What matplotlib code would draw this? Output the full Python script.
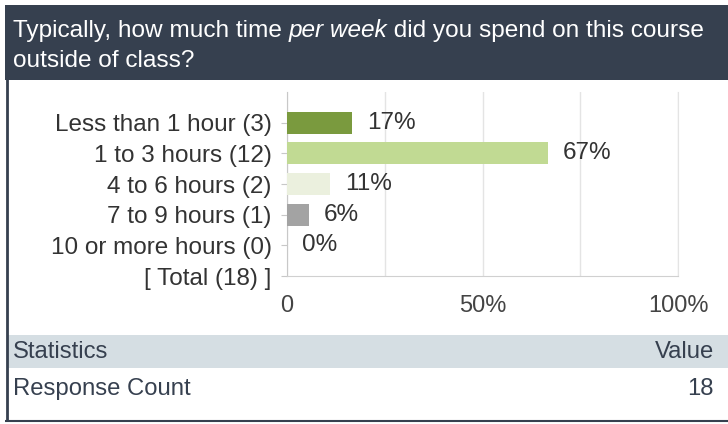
import matplotlib
matplotlib.use("Agg")
import matplotlib.pyplot as plt
from matplotlib.patches import Rectangle

plt.rcParams['font.family'] = ['Liberation Sans', 'DejaVu Sans']

# ---- data ----
question_plain_1 = "Typically, how much time "
question_italic = "per week"
question_plain_2 = " did you spend on this course"
question_line2 = "outside of class?"
categories = ["Less than 1 hour", "1 to 3 hours", "4 to 6 hours", "7 to 9 hours", "10 or more hours"]
counts = [3, 12, 2, 1, 0]
total_label = "Total"
bar_colors = ["#7a9a3e", "#c1da93", "#ebf0de", "#a3a3a3", "#dddddd"]
xticks = [0, 50, 100]
xtick_labels = ["0", "50%", "100%"]
stats_header = ["Statistics", "Value"]
stats_rows = [("Response Count", "18")]

total = sum(counts)
pcts = [100.0 * c / total for c in counts]

W, H = 728, 424
fig = plt.figure(figsize=(W / 100, H / 100), dpi=100)
fig.patch.set_facecolor("white")

# background / frame axes in pixel coordinates
bg = fig.add_axes([0, 0, 1, 1])
bg.set_xlim(0, W)
bg.set_ylim(H, 0)
bg.axis("off")

dark = "#36404f"
bg.add_patch(Rectangle((5, 5), W - 5, 75, color=dark, lw=0))
bg.plot([6.5, 6.5], [5, 421], color=dark, lw=2, solid_capstyle="butt")
bg.plot([5, W], [421, 421], color=dark, lw=1.5, solid_capstyle="butt")

# header text with italic part
fs_head = 17.6
t1 = bg.text(13, 31, question_plain_1, color="white", fontsize=fs_head, va="center", ha="left")
fig.canvas.draw()
r = fig.canvas.get_renderer()
bb = t1.get_window_extent(renderer=r)
x_px = 13 + bb.width
t2 = bg.text(x_px, 31, question_italic, color="white", fontsize=fs_head, va="center", ha="left", style="italic")
bb2 = t2.get_window_extent(renderer=r)
x_px += bb2.width
bg.text(x_px, 31, question_plain_2, color="white", fontsize=fs_head, va="center", ha="left")
bg.text(13, 61, question_line2, color="white", fontsize=fs_head, va="center", ha="left")

# statistics table
fs_tab = 17.2
bg.add_patch(Rectangle((7, 335), W - 7, 33, color="#d5dee3", lw=0))
bg.text(13, 352, stats_header[0], color=dark, fontsize=fs_tab, va="center", ha="left")
bg.text(W - 14, 352, stats_header[1], color=dark, fontsize=fs_tab, va="center", ha="right")
for i, (k, v) in enumerate(stats_rows):
    y = 389 + 32 * i
    bg.text(13, y, k, color=dark, fontsize=fs_tab, va="center", ha="left")
    bg.text(W - 14, y, v, color=dark, fontsize=fs_tab, va="center", ha="right")

# chart axes
left, right, top, bottom = 287, 678, 92, 276
ax = fig.add_axes([left / W, 1 - bottom / H, (right - left) / W, (bottom - top) / H])
ax.set_xlim(0, 100)
n = len(categories)
ax.set_ylim(n + 1, 0)
ypos = list(range(1, n + 1))
fs_chart = 17.5
ax.barh(ypos, pcts, height=0.72, color=bar_colors, zorder=3)
for y, p in zip(ypos, pcts):
    ax.annotate(f"{p:.0f}%", (p, y), xytext=(10.5, 0), textcoords="offset points",
                va="center", ha="left", fontsize=fs_chart, color="#333333")

ylabels = [f"{c} ({k})" for c, k in zip(categories, counts)] + [f"[ {total_label} ({total}) ]"]
ax.set_yticks(ypos + [n + 1])
ax.set_yticklabels(ylabels, fontsize=fs_chart, color="#333333")
ax.set_xticks(xticks)
ax.set_xticklabels(xtick_labels, fontsize=17, color="#444444")
ax.set_xticks([25, 75], minor=True)
ax.tick_params(axis="y", length=4, color="#c8c8c8", pad=7)
ax.tick_params(axis="x", which="both", length=0, pad=14)
ax.grid(axis="x", which="both", color="#e4e4e4", lw=1, zorder=0)
ax.spines["top"].set_visible(False)
ax.spines["right"].set_color("#e4e4e4")
ax.spines["left"].set_color("#c8c8c8")
ax.spines["bottom"].set_color("#d0d0d0")
ax.set_facecolor("none")

fig.savefig("out.png", dpi=100, facecolor="white")
